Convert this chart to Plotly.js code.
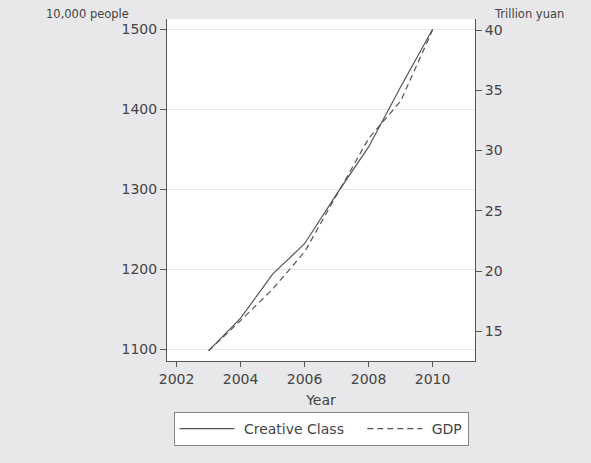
<!DOCTYPE html>
<html>
<head>
<meta charset="utf-8">
<script src="https://cdn.plot.ly/plotly-3.0.1.min.js"></script>
<style>html,body{margin:0;padding:0;background:#e8e8ea;}#chart{width:591px;height:463px;}</style>
</head>
<body>
<div id="chart"></div>
<script>
const years = [2003, 2004, 2005, 2006, 2007, 2008, 2009, 2010];
const creativeClass = [1098, 1139, 1194, 1232, 1294, 1353, 1428, 1500];
const gdp = [13.4, 15.9, 18.5, 21.6, 26.3, 31.0, 34.1, 40.0];
const xTicks = [2002, 2004, 2006, 2008, 2010];
const leftTicks = [1100, 1200, 1300, 1400, 1500];
const rightTicks = [15, 20, 25, 30, 35, 40];

const tickFont = {family: 'DejaVu Sans, Verdana, sans-serif', size: 14, color: '#444'};

const traces = [
  {x: years, y: creativeClass, name: '\u00a0Creative Class\u00a0\u00a0\u00a0', type: 'scatter', mode: 'lines',
   line: {color: '#555', width: 1.2}, yaxis: 'y'},
  {x: years, y: gdp, name: '\u00a0GDP', type: 'scatter', mode: 'lines',
   line: {color: '#555', width: 1.2, dash: '6px,4px'}, yaxis: 'y2'}
];

const layout = {
  width: 591, height: 463,
  paper_bgcolor: '#e8e8ea', plot_bgcolor: '#ffffff',
  margin: {l: 167, r: 115.5, t: 19, b: 102},
  font: {family: 'DejaVu Sans, Verdana, sans-serif', color: '#444'},
  showlegend: true,
  legend: {orientation: 'h', x: 0.5, xanchor: 'center', y: -0.149, yanchor: 'top',
    bgcolor: '#ffffff', bordercolor: '#888', borderwidth: 1,
    font: {family: 'DejaVu Sans, Verdana, sans-serif', size: 14, color: '#444'},
    itemwidth: 55},
  xaxis: {range: [2001.70, 2011.325], tickvals: xTicks, ticktext: xTicks.map(String),
    ticks: 'outside', ticklen: 5, tickcolor: '#555', showline: true, linecolor: '#555', linewidth: 1,
    showgrid: false, zeroline: false, tickfont: tickFont,
    title: {text: 'Year', font: tickFont, standoff: 9}},
  yaxis: {range: [1085.4, 1512.9], tickvals: leftTicks, ticktext: leftTicks.map(String),
    ticks: 'outside', ticklen: 6, tickcolor: '#555', showline: true, linecolor: '#555', linewidth: 1,
    showgrid: true, gridcolor: '#e6e6e6', gridwidth: 1, zeroline: false, tickfont: tickFont},
  yaxis2: {range: [12.547, 40.915], tickvals: rightTicks, ticktext: rightTicks.map(String),
    overlaying: 'y', side: 'right', ticks: 'outside', ticklen: 6, tickcolor: '#555',
    showline: true, linecolor: '#555', linewidth: 1, showgrid: false, zeroline: false, tickfont: tickFont},
  annotations: [
    {text: '10,000 people', xref: 'paper', yref: 'paper', x: -0.258, y: 1.0, xanchor: 'center', yanchor: 'middle',
     yshift: 5, showarrow: false, font: {family: 'DejaVu Sans, Verdana, sans-serif', size: 11.5, color: '#444'}},
    {text: 'Trillion yuan', xref: 'paper', yref: 'paper', x: 1.174, y: 1.0, xanchor: 'center', yanchor: 'middle',
     yshift: 5, showarrow: false, font: {family: 'DejaVu Sans, Verdana, sans-serif', size: 11.5, color: '#444'}}
  ]
};

Plotly.newPlot('chart', traces, layout, {displayModeBar: false, staticPlot: true});
</script>
</body>
</html>
